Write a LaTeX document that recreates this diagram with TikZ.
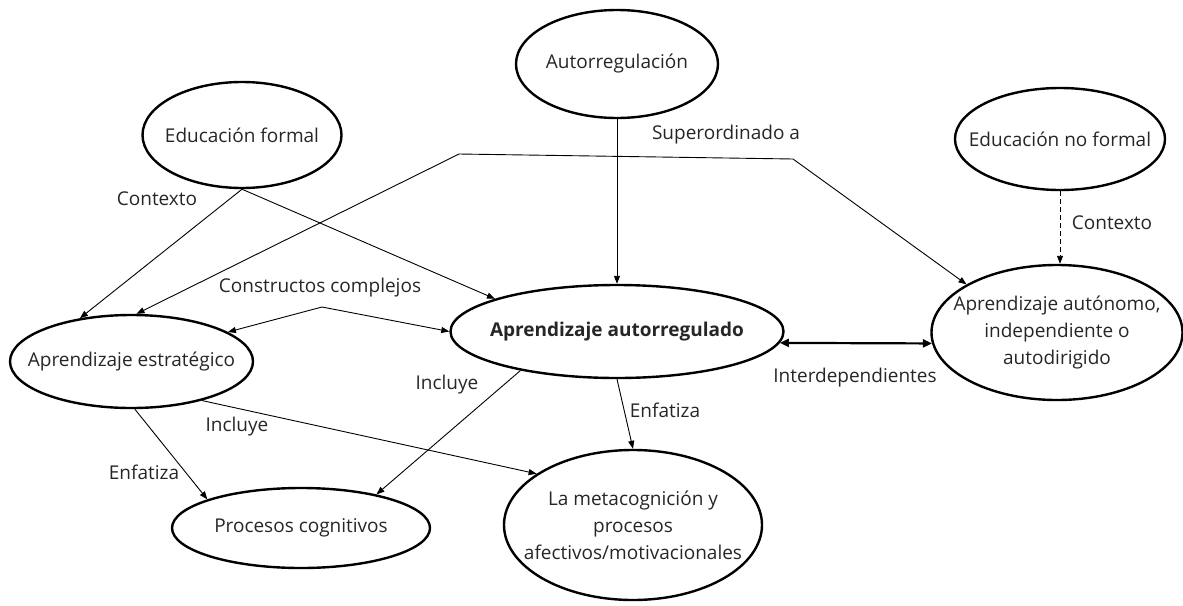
\documentclass[tikz,border=0pt]{standalone}
\usepackage{fontspec}
\setmainfont{Open Sans}
\usetikzlibrary{arrows.meta,shapes.geometric}
\begin{document}
\begin{tikzpicture}[x=1pt,y=-1pt,
  ell/.style={draw, line width=2.4pt, ellipse, inner sep=0pt},
  txt/.style={font=\fontsize{19}{27}\selectfont, text=black!85, align=center, inner sep=0pt},
  conn/.style={line width=0.9pt, -{Triangle[length=8pt,width=6pt]}},
  conntwo/.style={line width=0.9pt, {Triangle[length=8pt,width=6pt]}-{Triangle[length=8pt,width=6pt]}},
  thickconn/.style={line width=2.2pt, {Triangle[length=9pt,width=8pt]}-{Triangle[length=9pt,width=8pt]}},
]
\useasboundingbox (0,0) rectangle (1183,605);

% ellipses
\node[ell, minimum width=202pt, minimum height=108pt] (autoreg) at (617,64) {};
\node[ell, minimum width=199pt, minimum height=106pt] (edu) at (242,135) {};
\node[ell, minimum width=210pt, minimum height=102pt] (edunf) at (1060,139) {};
\node[ell, minimum width=333pt, minimum height=93pt] (arg) at (617,331.5) {};
\node[ell, minimum width=243pt, minimum height=93pt] (estrat) at (131.5,361.5) {};
\node[ell, minimum width=251pt, minimum height=135pt] (auton) at (1057,332.5) {};
\node[ell, minimum width=258pt, minimum height=80pt] (proc) at (301,528) {};
\node[ell, minimum width=258pt, minimum height=150pt] (meta) at (633,525) {};

% ellipse texts
\node[txt] (autoregT) at (autoreg.center) {Autorregulación};
\node[txt] (eduT) at (edu.center) {Educación formal};
\node[txt] (edunfT) at (edunf.center) {Educación no formal};
\node[txt, font=\fontsize{19}{27}\selectfont\bfseries] (argT) at (arg.center) {Aprendizaje autorregulado};
\node[txt] (estratT) at (estrat.center) {Aprendizaje estratégico};
\node[txt] (autonT) at (auton.center) {Aprendizaje autónomo,\\independiente o\\autodirigido};
\node[txt] (procT) at (proc.center) {Procesos cognitivos};
\node[txt] (metaT) at (meta.center) {La metacognición y\\procesos\\afectivos/motivacionales};

% connectors
\draw[conn] (autoreg.south) -- (autoreg.south |- arg.north);

\coordinate (s1) at (459,154);
\coordinate (s2) at (793,159);
\draw[conntwo] (estrat.84) -- (s1) -- (s2) -- (auton.152.7);

\draw[conn] (edu.south) -- (estrat.140);
\draw[conn] (edu.south) -- (arg.165);

\coordinate (cc) at (322,307);
\draw[conntwo] (estrat.17) -- (cc) -- (arg.west);

\draw[conn, dash pattern=on 5pt off 3pt] (edunf.south) -- (edunf.south |- auton.north);

\draw[thickconn] (arg.-4) -- (auton.185);

\draw[conn] (arg.202.5) -- (proc.24);
\draw[conn] (estrat.-86) -- (proc.163);
\draw[conn] (estrat.-29) -- (meta.152);
\draw[conn] (arg.south) -- (meta.north);

% edge labels
\node[txt] (lsup) at (726,135) {Superordinado a};
\node[txt] (lctx1) at (157,199) {Contexto};
\node[txt] (lctx2) at (1112,223) {Contexto};
\node[txt] (lcons) at (320,288) {Constructos complejos};
\node[txt] (linter) at (855,378) {Interdependientes};
\node[txt] (linc1) at (447,385) {Incluye};
\node[txt] (linc2) at (237,427) {Incluye};
\node[txt] (lenf1) at (144,472) {Enfatiza};
\node[txt] (lenf2) at (665,410) {Enfatiza};
\end{tikzpicture}
\end{document}
